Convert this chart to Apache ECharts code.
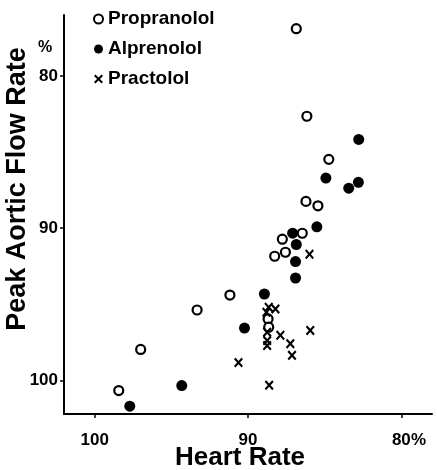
<!DOCTYPE html>
<html>
<head>
<meta charset="utf-8">
<script src="https://cdn.jsdelivr.net/npm/echarts@6/dist/echarts.min.js"></script>
<style>
  html, body { margin: 0; padding: 0; background: #fff; }
  #chart { width: 437px; height: 470px; }
</style>
</head>
<body>
<div id="chart"></div>
<script>
// [heart rate %, peak aortic flow rate %]
const propranolol = [
  [86.85, 76.9], [86.16, 82.65], [84.73, 85.48], [86.22, 88.24], [85.44, 88.53],
  [86.46, 90.33], [87.76, 90.72], [87.56, 91.58], [88.26, 91.84], [91.18, 94.39],
  [93.32, 95.37], [97.0, 97.96], [98.43, 100.66], [88.69, 95.96], [88.65, 96.5]
];
const alprenolol = [
  [82.78, 84.17], [84.92, 86.71], [82.8, 86.99], [83.43, 87.37], [85.51, 89.91],
  [87.09, 90.33], [86.85, 91.07], [86.9, 92.19], [86.9, 93.27], [88.93, 94.32],
  [90.23, 96.56], [94.32, 100.33], [97.71, 101.69]
];
const practolol = [
  [85.99, 91.71], [88.65, 95.19], [88.21, 95.3], [88.8, 95.52], [88.75, 96.83],
  [88.75, 97.38], [88.75, 97.71], [87.89, 97.03], [87.24, 97.58], [87.13, 98.35],
  [85.94, 96.71], [90.62, 98.82], [88.62, 100.31]
];
const xTicks = [100, 90, 80];
const yTicks = [80, 90, 100];

// bold "x" mark
const crossPath = 'path://M0,1.6 L1.6,0 L5,3.4 L8.4,0 L10,1.6 L6.6,5 L10,8.4 L8.4,10 L5,6.6 L1.6,10 L0,8.4 L3.4,5 Z';
const font = 'Liberation Sans, Arial, sans-serif';

const chart = echarts.init(document.getElementById('chart'), null, { renderer: 'canvas' });

chart.setOption({
  backgroundColor: '#fff',
  animation: false,
  grid: { left: 64, right: 5, top: 15, bottom: 56, containLabel: false, outerBoundsMode: 'none' },
  legend: {
    orient: 'vertical',
    left: 88,
    top: 4,
    itemWidth: 9,
    itemHeight: 9,
    itemGap: 10,
    textStyle: { fontSize: 19, fontWeight: 'bold', color: '#000', fontFamily: font, lineHeight: 20 },
    data: ['Propranolol', 'Alprenolol', 'Practolol']
  },
  xAxis: {
    type: 'value',
    inverse: true,
    min: 78,
    max: 102,
    name: 'Heart Rate',
    nameLocation: 'middle',
    nameGap: 31,
    nameMoveOverlap: false,
    nameTextStyle: { fontSize: 26, fontWeight: 'bold', color: '#000', fontFamily: font, lineHeight: 26, padding: [0, 16, 0, 0] },
    axisLine: { lineStyle: { color: '#000', width: 2 } },
    axisTick: { show: true, length: 4, customValues: xTicks, lineStyle: { color: '#000', width: 1.5 } },
    axisLabel: { customValues: xTicks, margin: 18, fontSize: 17, fontWeight: 'bold', color: '#000', fontFamily: font },
    splitLine: { show: false }
  },
  yAxis: {
    type: 'value',
    inverse: true,
    min: 76,
    max: 102.2,
    axisLine: { show: true, lineStyle: { color: '#000', width: 2 } },
    axisTick: { show: true, length: 4, customValues: yTicks, lineStyle: { color: '#000', width: 1.5 } },
    axisLabel: { customValues: yTicks, margin: 6, fontSize: 17, fontWeight: 'bold', color: '#000', fontFamily: font },
    splitLine: { show: false }
  },
  graphic: [
    {
      type: 'text', x: 18, y: 189, rotation: Math.PI / 2,
      style: { text: 'Peak Aortic Flow Rate', fontSize: 27, fontWeight: 'bold', fill: '#000', fontFamily: font, align: 'center', verticalAlign: 'middle' }
    },
    { type: 'text', x: 38, y: 40, style: { text: '%', fontSize: 16, fontWeight: 'bold', fill: '#000', fontFamily: font } },
    { type: 'text', x: 411, y: 432, style: { text: '%', fontSize: 17, fontWeight: 'bold', fill: '#000', fontFamily: font } }
  ],
  series: [
    {
      name: 'Propranolol',
      type: 'scatter',
      data: propranolol,
      symbol: 'circle',
      symbolSize: 9,
      itemStyle: { color: '#fff', borderColor: '#000', borderWidth: 2.2, opacity: 1 }
    },
    {
      name: 'Alprenolol',
      type: 'scatter',
      data: alprenolol,
      symbol: 'circle',
      symbolSize: 11,
      itemStyle: { color: '#000', opacity: 1 }
    },
    {
      name: 'Practolol',
      type: 'scatter',
      data: practolol,
      symbol: crossPath,
      symbolSize: [9, 10],
      itemStyle: { color: '#000', opacity: 1 }
    }
  ]
});
</script>
</body>
</html>
